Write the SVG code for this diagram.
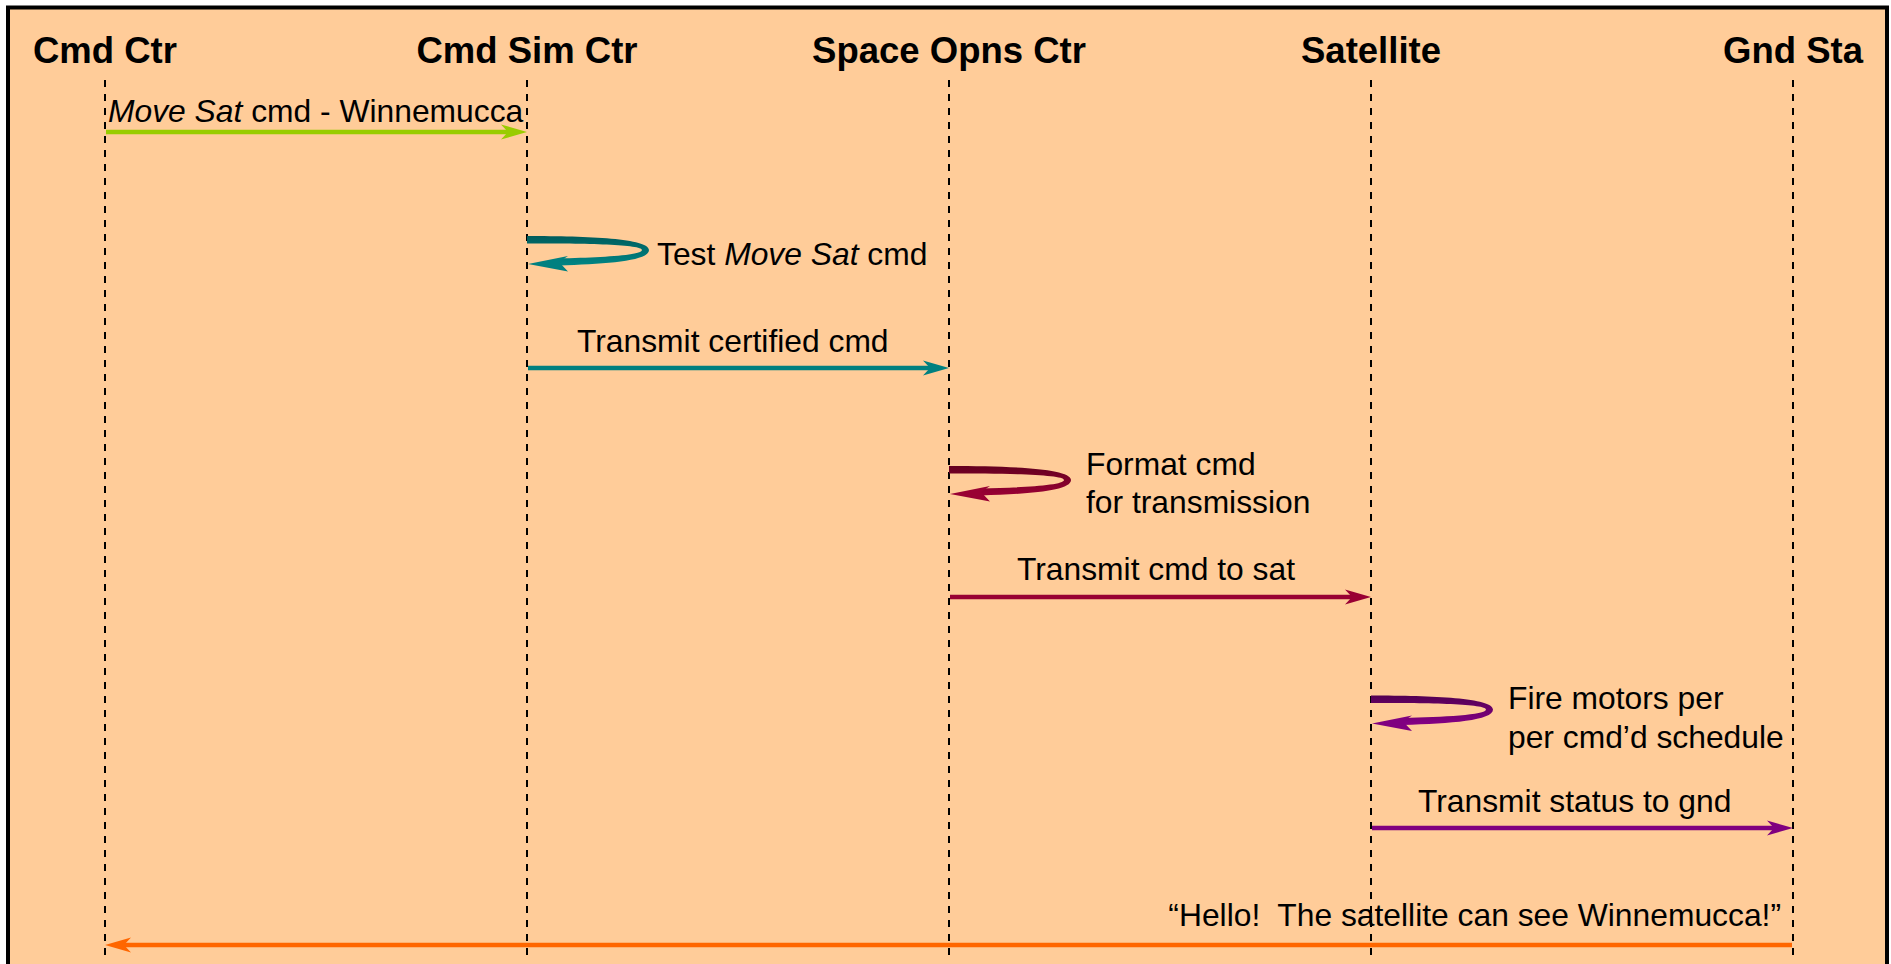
<svg xmlns="http://www.w3.org/2000/svg" width="1891" height="964" viewBox="0 0 1891 964">
  <style>
    .head { font-family: "Liberation Sans", Arial, sans-serif; font-weight: bold; font-size: 36.5px; fill: #000; text-anchor: middle; }
    .lbl { font-family: "Liberation Sans", Arial, sans-serif; font-size: 31.8px; fill: #000; }
    .life { stroke: #000; stroke-width: 2; stroke-dasharray: 7 7; fill: none; }
    .msg { fill: none; stroke-width: 4.5; }
  </style>
  <defs>
    <linearGradient id="gTeal" x1="0" y1="0" x2="0" y2="1">
      <stop offset="0" stop-color="#005c5c"/>
      <stop offset="1" stop-color="#008585"/>
    </linearGradient>
    <linearGradient id="gRed" x1="0" y1="0" x2="0" y2="1">
      <stop offset="0" stop-color="#64001f"/>
      <stop offset="1" stop-color="#9a0034"/>
    </linearGradient>
    <linearGradient id="gPurple" x1="0" y1="0" x2="0" y2="1">
      <stop offset="0" stop-color="#520052"/>
      <stop offset="1" stop-color="#860086"/>
    </linearGradient>
    <!-- self-message loop band (filled, tapering) and its arrowhead, drawn from the lifeline -->
    <path id="loopBand" d="M0,-4 C62,-4 122,-1.5 122,10 C122,21 80,24 32,25.5 L32,18.5 C72,17.5 115,15.5 115,10 C115,4.5 60,3.5 0,3.5 Z"/>
    <path id="loopHead" d="M1,24 L41,16 L32,22 L41,31.5 Z"/>
    <marker id="aGreen" viewBox="-28 -10 30 20" refX="-19" refY="0" markerWidth="30" markerHeight="20" markerUnits="userSpaceOnUse" orient="auto">
      <path d="M0,0 L-26,-7.5 L-19,0 L-26,7.5 Z" fill="#99cc00"/>
    </marker>
    <marker id="aTeal" viewBox="-28 -10 30 20" refX="-19" refY="0" markerWidth="30" markerHeight="20" markerUnits="userSpaceOnUse" orient="auto">
      <path d="M0,0 L-26,-7.5 L-19,0 L-26,7.5 Z" fill="#008080"/>
    </marker>
    <marker id="aRed" viewBox="-28 -10 30 20" refX="-19" refY="0" markerWidth="30" markerHeight="20" markerUnits="userSpaceOnUse" orient="auto">
      <path d="M0,0 L-26,-7.5 L-19,0 L-26,7.5 Z" fill="#990033"/>
    </marker>
    <marker id="aPurple" viewBox="-28 -10 30 20" refX="-19" refY="0" markerWidth="30" markerHeight="20" markerUnits="userSpaceOnUse" orient="auto">
      <path d="M0,0 L-26,-7.5 L-19,0 L-26,7.5 Z" fill="#800080"/>
    </marker>
    <marker id="aOrange" viewBox="-28 -10 30 20" refX="-19" refY="0" markerWidth="30" markerHeight="20" markerUnits="userSpaceOnUse" orient="auto">
      <path d="M0,0 L-26,-7.5 L-19,0 L-26,7.5 Z" fill="#ff6600"/>
    </marker>
  </defs>

  <rect x="0" y="0" width="1891" height="964" fill="#ffffff"/>
  <rect id="frame" x="8" y="7.5" width="1879" height="1000" fill="#ffcc99" stroke="#000" stroke-width="4"/>

  <!-- participants with their lifelines -->
  <g id="cmd-ctr">
    <text class="head" x="105" y="63">Cmd Ctr</text>
    <line class="life" x1="105" y1="80" x2="105" y2="958"/>
  </g>
  <g id="cmd-sim-ctr">
    <text class="head" x="527" y="63">Cmd Sim Ctr</text>
    <line class="life" x1="527" y1="80" x2="527" y2="958"/>
  </g>
  <g id="space-opns-ctr">
    <text class="head" x="949" y="63">Space Opns Ctr</text>
    <line class="life" x1="949" y1="80" x2="949" y2="958"/>
  </g>
  <g id="satellite">
    <text class="head" x="1371" y="63">Satellite</text>
    <line class="life" x1="1371" y1="80" x2="1371" y2="958"/>
  </g>
  <g id="gnd-sta">
    <text class="head" x="1793" y="63">Gnd Sta</text>
    <line class="life" x1="1793" y1="80" x2="1793" y2="958"/>
  </g>

  <!-- messages -->
  <g id="connectors">
    <line class="msg" x1="106" y1="132" x2="508" y2="132" stroke="#99cc00" marker-end="url(#aGreen)"/>
    <g transform="translate(527,240)">
      <use href="#loopBand" fill="url(#gTeal)"/>
      <use href="#loopHead" fill="#008080"/>
    </g>
    <line class="msg" x1="528" y1="368" x2="930" y2="368" stroke="#008080" marker-end="url(#aTeal)"/>
    <g transform="translate(949,470)">
      <use href="#loopBand" fill="url(#gRed)"/>
      <use href="#loopHead" fill="#990033"/>
    </g>
    <line class="msg" x1="950" y1="597" x2="1352" y2="597" stroke="#990033" marker-end="url(#aRed)"/>
    <g transform="translate(1371,699.5)">
      <use href="#loopBand" fill="url(#gPurple)"/>
      <use href="#loopHead" fill="#800080"/>
    </g>
    <line class="msg" x1="1372" y1="828" x2="1774" y2="828" stroke="#800080" marker-end="url(#aPurple)"/>
    <line class="msg" x1="1792" y1="945" x2="124" y2="945" stroke="#ff6600" marker-end="url(#aOrange)"/>
  </g>

  <!-- message labels -->
  <g id="labels">
    <text class="lbl" x="108" y="122"><tspan font-style="italic">Move Sat</tspan> cmd - Winnemucca</text>
    <text class="lbl" x="657" y="265">Test <tspan font-style="italic">Move Sat</tspan> cmd</text>
    <text class="lbl" x="577" y="352">Transmit certified cmd</text>
    <text class="lbl" x="1086" y="475">Format cmd</text>
    <text class="lbl" x="1086" y="513">for transmission</text>
    <text class="lbl" x="1017" y="580">Transmit cmd to sat</text>
    <text class="lbl" x="1508" y="709">Fire motors per</text>
    <text class="lbl" x="1508" y="748">per cmd’d schedule</text>
    <text class="lbl" x="1418" y="812">Transmit status to gnd</text>
    <text class="lbl" x="1781" y="926" text-anchor="end">“Hello!&#160; The satellite can see Winnemucca!”</text>
  </g>
</svg>
